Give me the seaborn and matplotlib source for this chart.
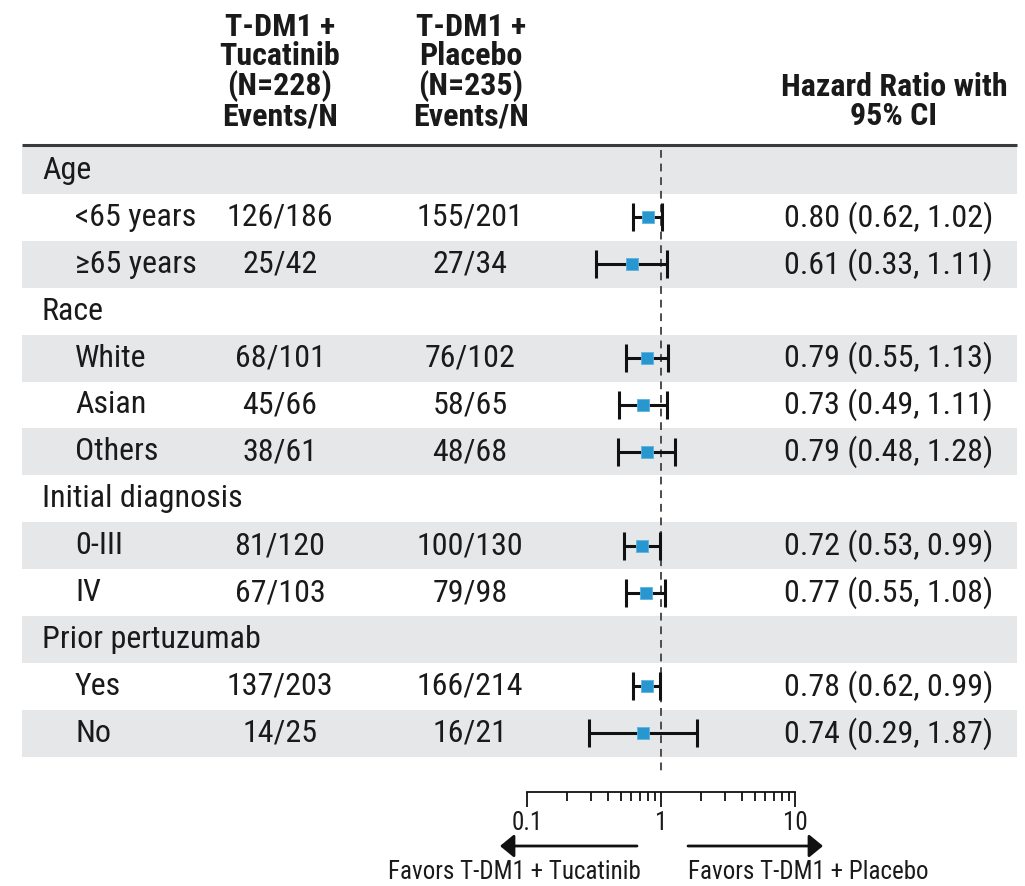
import numpy as np
import pandas as pd
import matplotlib
matplotlib.use("Agg")
import matplotlib.pyplot as plt
from matplotlib.ticker import LogLocator, FixedLocator, FixedFormatter, NullFormatter
import seaborn as sns

# ---- data -------------------------------------------------------------
groups = ["Age", "Race", "Initial diagnosis", "Prior pertuzumab"]
subgroups = [
    ["<65 years", "≥65 years"],
    ["White", "Asian", "Others"],
    ["0-III", "IV"],
    ["Yes", "No"],
]
tucatinib_events = ["126/186", "25/42", "68/101", "45/66", "38/61",
                    "81/120", "67/103", "137/203", "14/25"]
placebo_events = ["155/201", "27/34", "76/102", "58/65", "48/68",
                  "100/130", "79/98", "166/214", "16/21"]
hazard_ratio = [0.80, 0.61, 0.79, 0.73, 0.79, 0.72, 0.77, 0.78, 0.74]
ci_lower = [0.62, 0.33, 0.55, 0.49, 0.48, 0.53, 0.55, 0.62, 0.29]
ci_upper = [1.02, 1.11, 1.13, 1.11, 1.28, 0.99, 1.08, 0.99, 1.87]

axis_ticks = [0.1, 1, 10]
axis_tick_labels = ["0.1", "1", "10"]

header_tucatinib = "T-DM1 +\nTucatinib\n(N=228)\nEvents/N"
header_placebo = "T-DM1 +\nPlacebo\n(N=235)\nEvents/N"
header_hr = "Hazard Ratio with\n95% CI"
favors_left = "Favors T-DM1 + Tucatinib"
favors_right = "Favors T-DM1 + Placebo"

# ---- build the row table ---------------------------------------------
rows = []
k = 0
for g, subs in zip(groups, subgroups):
    rows.append(dict(label=g, header=True))
    for s in subs:
        rows.append(dict(label=s, header=False, tuc=tucatinib_events[k],
                         pla=placebo_events[k], hr=hazard_ratio[k],
                         lo=ci_lower[k], hi=ci_upper[k]))
        k += 1
df = pd.DataFrame(rows)

# ---- style ------------------------------------------------------------
sns.set_theme(style="white")
plt.rcParams["font.family"] = ["Roboto Condensed", "Archivo Narrow", "DejaVu Sans"]

W, H = 1025, 886
fig = plt.figure(figsize=(W / 100, H / 100), dpi=100)

# layout in pixels
top_rows = 147.0
row_h = 46.9
axis_y = 792.0
band_color = "#e6e7e9"
text_color = "#1a1a1a"
fs = 23
df["yc"] = top_rows + row_h * (np.arange(len(df)) + 0.5)

# background / table axes in pixel coordinates
bg = fig.add_axes([0, 0, 1, 1])
bg.set_xlim(0, W)
bg.set_ylim(H, 0)
bg.axis("off")

band_rows = df.iloc[::2]
bg.barh(band_rows["yc"], width=1017 - 22, left=22, height=row_h,
        color=band_color, linewidth=0, zorder=0)
bg.plot([22, 1017], [144.5, 144.5], color="#3a3a3a", lw=2.2, zorder=2,
        solid_capstyle="butt")

# column headers
hdr_kw = dict(ha="center", va="bottom", fontsize=fs, fontweight="bold",
              linespacing=0.96, color=text_color)
bg.text(280, 131, header_tucatinib, **hdr_kw)
bg.text(471, 131, header_placebo, **hdr_kw)
bg.text(894, 131, header_hr, **hdr_kw)

# table body
for _, r in df.iterrows():
    if r["header"]:
        bg.text(42, r["yc"], r["label"], ha="left", va="center",
                fontsize=fs, color=text_color)
    else:
        bg.text(75, r["yc"], r["label"], ha="left", va="center",
                fontsize=fs, color=text_color)
        bg.text(280, r["yc"], r["tuc"], ha="center", va="center",
                fontsize=fs, color=text_color)
        bg.text(470, r["yc"], r["pla"], ha="center", va="center",
                fontsize=fs, color=text_color)
        bg.text(993, r["yc"],
                f"{r['hr']:.2f} ({r['lo']:.2f}, {r['hi']:.2f})",
                ha="right", va="center", fontsize=fs, color=text_color)

# ---- forest axes (log scale) -----------------------------------------
x0, x1 = 527, 795
ax = fig.add_axes([x0 / W, (H - axis_y) / H, (x1 - x0) / W, (axis_y - 140) / H])
ax.set_facecolor("none")
ax.set_xscale("log")
ax.set_xlim(0.1, 10)
ax.set_ylim(axis_y, 140)

est = df[~df["header"]].copy()
ax.vlines(1, 150, 776, colors="#4d4d4d", linestyles=(0, (4, 3)),
          linewidth=1.4, zorder=1)
ax.errorbar(est["hr"], est["yc"],
            xerr=[est["hr"] - est["lo"], est["hi"] - est["hr"]],
            fmt="none", ecolor="#111111", elinewidth=2.2, capsize=10,
            capthick=2.2, zorder=2)
sns.scatterplot(data=est, x="hr", y="yc", marker="s", s=85,
                color="#2896cf", edgecolor="#5ab4e0", linewidth=0.6,
                ax=ax, zorder=3, legend=False)

for side in ["top", "left", "right"]:
    ax.spines[side].set_visible(False)
ax.spines["bottom"].set_color("#111111")
ax.spines["bottom"].set_linewidth(1.3)
ax.set_xlabel("")
ax.set_ylabel("")
ax.set_yticks([])
ax.xaxis.set_major_locator(FixedLocator(axis_ticks))
ax.xaxis.set_major_formatter(FixedFormatter(axis_tick_labels))
ax.xaxis.set_minor_locator(LogLocator(base=10, subs=np.arange(2, 10)))
ax.xaxis.set_minor_formatter(NullFormatter())
ax.tick_params(axis="x", which="major", direction="out", length=11,
               width=1.3, color="#111111", labelsize=18, pad=3,
               labelcolor=text_color, bottom=True)
ax.tick_params(axis="x", which="minor", direction="out", length=6.5,
               width=1.3, color="#111111", bottom=True)

# direction arrows and captions
arrow_kw = dict(arrowstyle="-|>,head_length=0.85,head_width=0.7",
                mutation_scale=10, color="#111111", lw=2.0,
                shrinkA=0, shrinkB=0)
bg.annotate("", xy=(500, 846), xytext=(637, 846), arrowprops=arrow_kw)
bg.annotate("", xy=(823, 846), xytext=(688, 846), arrowprops=arrow_kw)
bg.text(514, 879, favors_left, ha="center", va="baseline", fontsize=18,
        color=text_color)
bg.text(808, 879, favors_right, ha="center", va="baseline", fontsize=18,
        color=text_color)

fig.savefig("out.png", dpi=100)
